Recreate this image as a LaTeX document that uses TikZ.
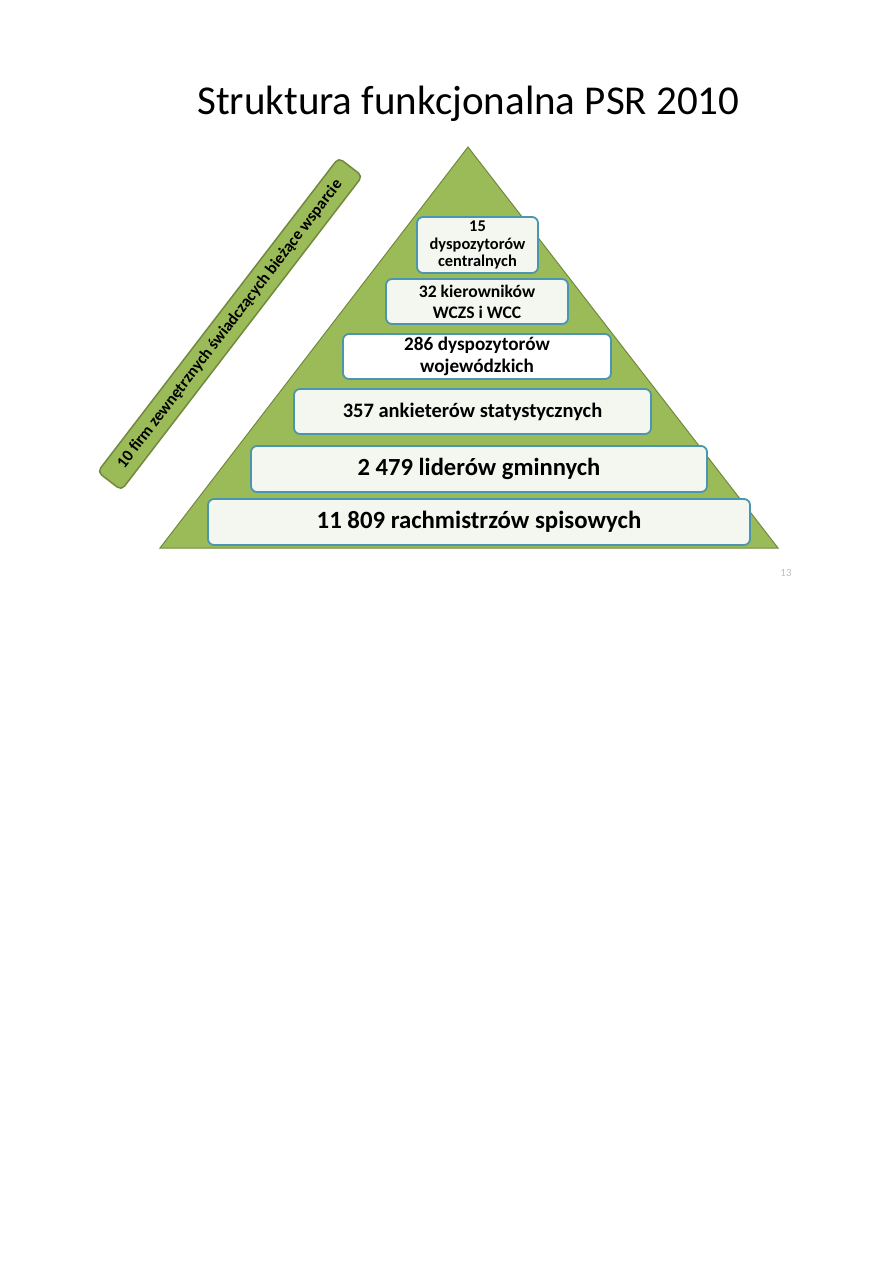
\documentclass[tikz,border=0pt]{standalone}
\usepackage{fontspec}
\setmainfont{Carlito}
\definecolor{pgreen}{HTML}{9BBB59}
\definecolor{pgreenD}{HTML}{71893F}
\definecolor{bborder}{HTML}{4B96AE}
\definecolor{bfill}{HTML}{F3F7EF}
\begin{document}
\begin{tikzpicture}[x=1pt,y=-1pt,
  lvl/.style={draw=bborder,line width=1.8pt,fill=bfill,rounded corners=6pt,
    inner sep=0pt,align=center,font=\bfseries},
  sidebox/.style={draw=pgreenD,line width=1.5pt,fill=pgreen,rounded corners=5pt,
    inner sep=0pt,minimum width=396pt,minimum height=30pt,rotate=52.5,font=\bfseries\fontsize{16.4}{19}\selectfont}]
\useasboundingbox[fill=white] (0,0) rectangle (893,1263);
\node[font=\fontsize{41}{48}\selectfont,anchor=base] (title) at (468.5,114) {Struktura funkcjonalna PSR 2010};
\coordinate (apex) at (468,147);
\coordinate (bl) at (160,548);
\coordinate (br) at (778,548);
\filldraw[fill=pgreen,draw=pgreenD,line width=1pt] (apex) -- (br) -- (bl) -- cycle;
\node[sidebox] (side) at (230,324) {10 firm zewnętrznych świadczących bieżące wsparcie};
\node[lvl,minimum width=121pt,minimum height=56pt,font=\bfseries\fontsize{16.4}{17.5}\selectfont] (b1) at (477.5,245) {15\\dyspozytorów\\centralnych};
\node[lvl,minimum width=182pt,minimum height=45pt,font=\bfseries\fontsize{17.6}{21}\selectfont] (b2) at (477,301.5) {32 kierowników\\WCZS i WCC};
\node[lvl,fill=white,minimum width=268pt,minimum height=45pt,font=\bfseries\fontsize{19.2}{22.5}\selectfont] (b3) at (477,356.5) {286 dyspozytorów\\wojewódzkich};
\node[lvl,minimum width=357pt,minimum height=45pt,font=\bfseries\fontsize{20.5}{24}\selectfont] (b4) at (472.5,411.5) {357 ankieterów statystycznych};
\node[lvl,minimum width=456pt,minimum height=46pt,font=\bfseries\fontsize{24.6}{28}\selectfont] (b5) at (479,469) {2 479 liderów gminnych};
\node[lvl,minimum width=542pt,minimum height=46pt,font=\bfseries\fontsize{24.8}{28}\selectfont] (b6) at (479,522) {11 809 rachmistrzów spisowych};
\node[text=gray!50,font=\fontsize{11}{13}\selectfont] (pg) at (786,573) {13};
\end{tikzpicture}
\end{document}
